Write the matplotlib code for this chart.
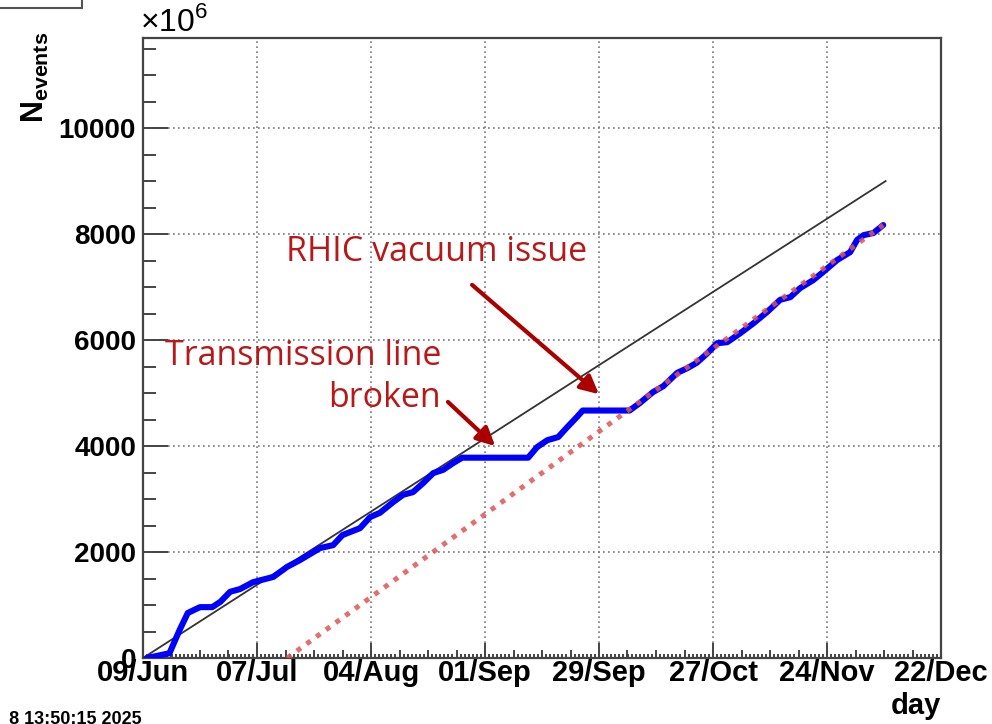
import matplotlib
matplotlib.use("Agg")
import matplotlib.pyplot as plt
import numpy as np
from matplotlib.patches import Rectangle

plt.rcParams["font.family"] = ["Liberation Sans", "DejaVu Sans"]
plt.rcParams["mathtext.fontset"] = "custom"
plt.rcParams["mathtext.rm"] = "Liberation Sans"
plt.rcParams["mathtext.bf"] = "Liberation Sans:bold"

# days counted from 09/Jun 2025, values in units of 1e6 events
blue_days = [1, 6.5, 9, 11, 14, 17, 19, 21.4, 23.8, 27, 32, 35.4, 38.6, 43.5,
             46.7, 49, 53.3, 55.8, 58.2, 61.4, 63.9, 66.3, 68.8, 71.3, 73.7,
             76.2, 78.4, 94.6, 96.8, 99.3, 102, 104, 106.6, 108, 119.5, 122,
             125.3, 127.8, 131.2, 133.7, 136, 138.6, 141, 143.5, 146.7, 150,
             153.3, 156.5, 159, 161.4, 164.6, 167, 170.5, 173.7, 175.4, 177,
             179.4, 181.8]
blue_vals = [0, 90, 530, 850, 960, 960, 1060, 1250, 1300, 1430, 1530, 1720,
             1850, 2075, 2130, 2320, 2450, 2660, 2740, 2940, 3080, 3130, 3300,
             3490, 3550, 3680, 3780, 3780, 3980, 4110, 4170, 4340, 4550, 4670,
             4670, 4810, 5020, 5130, 5380, 5470, 5570, 5750, 5940, 5960, 6130,
             6320, 6530, 6760, 6810, 6980, 7130, 7280, 7510, 7660, 7890, 7980,
             8020, 8170]

goal_days = [0, 182.4]
goal_vals = [0, 9000]

proj_days = [35.4, 181.8]
proj_vals = [0, 8170]

tick_days = [0, 28, 56, 84, 112, 140, 168, 196]
tick_labels = ["09/Jun", "07/Jul", "04/Aug", "01/Sep", "29/Sep", "27/Oct",
               "24/Nov", "22/Dec"]
y_ticks = [0, 2000, 4000, 6000, 8000, 10000]

fig = plt.figure(figsize=(9.92, 7.24), dpi=100)
ax = fig.add_axes([143 / 992, 1 - 658 / 724, 798 / 992, 620 / 724])

ax.plot(goal_days, goal_vals, color="#333333", lw=1.3, zorder=3)
ax.plot(blue_days, blue_vals, color="#0000ff", lw=4.4,
        solid_joinstyle="round", solid_capstyle="round", zorder=4)
ax.plot(proj_days, proj_vals, color="#e05555", alpha=0.85, lw=3.6,
        linestyle=(0, (1, 1.4)), zorder=5)

ax.set_xlim(0, 196)
ax.set_ylim(0, 11700)
ax.set_xticks(tick_days)
ax.set_xticklabels(tick_labels)
ax.set_xticks(np.arange(0, 197, 1), minor=True)
ax.set_yticks(y_ticks)
ax.set_yticks(np.arange(0, 11701, 500), minor=True)

ax.grid(True, which="major", linestyle=(0, (1, 2)), color="#777777", lw=1.2)

for s in ax.spines.values():
    s.set_color("#444444")
    s.set_linewidth(1.6)

ax.tick_params(axis="both", which="both", direction="in", color="#444444",
               width=1.4)
ax.tick_params(axis="x", which="major", length=11, pad=1, labelsize=21)
ax.tick_params(axis="x", which="minor", length=3)
ax.tick_params(axis="y", which="major", length=18, pad=5, labelsize=20)
ax.tick_params(axis="y", which="minor", length=9)
for lab in ax.get_xticklabels() + ax.get_yticklabels():
    lab.set_fontweight("bold")

# weekly secondary ticks
sec = ax.secondary_xaxis("bottom")
sec.set_xticks(np.arange(0, 197, 7))
sec.tick_params(direction="in", length=6, width=1.4, color="#444444",
                labelbottom=False)
sec.spines["bottom"].set_visible(False)

# axis titles
fig.text(35 / 992, 1 - 32 / 724, r"$\mathbf{N}_{\mathbf{events}}$",
         rotation=90, ha="center", va="top", fontsize=22)
fig.text(140 / 992, 1 - 38 / 724, "\u00d710$^{6}$", ha="left", va="bottom",
         fontsize=23)
fig.text(941 / 992, 1 - 706 / 724, "day", ha="right", va="center",
         fontsize=21, fontweight="bold")

# annotations
red_txt = "#b81818"
red_arr = "#aa0000"
ax.text(72.2, 7660, "RHIC vacuum issue", ha="center", va="center",
        fontsize=24.5, color=red_txt, family=["Open Sans", "DejaVu Sans"])
ax.text(73.2, 5300, "Transmission line\nbroken", ha="right", va="center",
        multialignment="right", linespacing=1.32, fontsize=24.5,
        color=red_txt, family=["Open Sans", "DejaVu Sans"])
head = "-|>,head_length=1.1,head_width=0.55"
ax.annotate("", xy=(87, 3963), xytext=(74.4, 4868),
            arrowprops=dict(arrowstyle=head, color=red_arr, lw=3), zorder=6)
ax.annotate("", xy=(112.5, 4944), xytext=(80.3, 7076),
            arrowprops=dict(arrowstyle=head, color=red_arr, lw=3), zorder=6)

# leftovers of the canvas: stats box edge and timestamp
fig.patches.append(Rectangle((-0.01, 1 - 8 / 724), 82 / 992 + 0.01, 0.05,
                             transform=fig.transFigure, facecolor="white",
                             edgecolor="#555555", lw=1.5))
fig.text(142 / 992, 1 - 711 / 724, "Mon Dec  8 13:50:15 2025", ha="right",
         va="top", fontsize=13, fontweight="bold")

fig.savefig("out.png", dpi=100)
